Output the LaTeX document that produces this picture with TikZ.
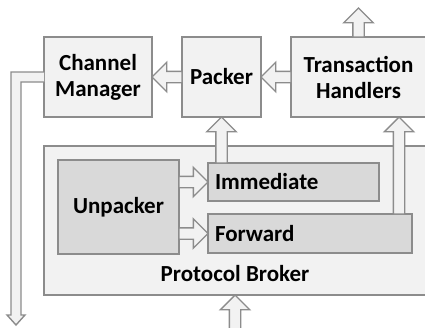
\documentclass[tikz,border=0pt]{standalone}
\usepackage{fontspec}
\setmainfont{Carlito}
\usetikzlibrary{positioning}
\usetikzlibrary{shapes.arrows}
\usetikzlibrary{calc}
\definecolor{edgegray}{gray}{0.55}
\definecolor{boxgray}{gray}{0.95}
\definecolor{ingray}{gray}{0.85}
\tikzstyle{block} = [rectangle, draw=edgegray, fill=boxgray, line width=1.6pt, outer sep=0pt, inner sep=0pt, align=center, font=\fontsize{23}{26}\selectfont\bfseries]
\tikzstyle{inblock} = [block, fill=ingray]
\tikzstyle{fatarrow} = [single arrow, draw=edgegray, fill=boxgray, line width=1.4pt, inner xsep=0pt, inner ysep=5pt, outer sep=0pt, minimum width=28pt, single arrow head extend=9pt, single arrow tip angle=90]
\tikzstyle{fatline} = [draw=edgegray, fill=boxgray, line width=1.4pt]
% fat arrow node from #2 to #3, named #1
\newcommand{\fatedge}[3]{%
  \path let \p1=(#2), \p2=(#3), \n1={atan2(\y2-\y1,\x2-\x1)}, \n2={veclen(\x2-\x1,\y2-\y1)} in
    node[fatarrow, anchor=tail, rotate=\n1, minimum height=\n2] (#1) at (\p1) {};%
}

\begin{document}
\begin{tikzpicture}[x=1pt, y=-1pt]
\useasboundingbox (0,0) rectangle (425,327);

% Define nodes
\node[block, minimum width=108pt, minimum height=80pt] (cm) at (98,77) {Channel\\Manager};
\node[block, minimum width=79pt, minimum height=80pt, right=30pt of cm] (pk) {Packer};
\node[block, minimum width=135pt, minimum height=80pt, right=30pt of pk] (th) {Transaction\\Handlers};
\coordinate[above=29pt of th.north] (thout);

\node[block, minimum width=382pt, minimum height=149pt] (pb) at (235,220.5) {};
\node[font=\fontsize{23}{26}\selectfont\bfseries, anchor=base, inner sep=0pt] (pbname) at ([yshift=14pt]pb.south) {Protocol Broker};
\coordinate[below=34pt of pb.south] (pbin);

\node[inblock, minimum width=121pt, minimum height=94pt, anchor=north west] (up) at (58,160) {Unpacker};
\node[inblock, minimum height=38pt, text width=157pt, inner xsep=7pt, align=left, anchor=north west] (im) at (208,163) {Immediate};
\node[inblock, minimum height=39pt, text width=190pt, inner xsep=7pt, align=left, anchor=north west] (fw) at (208,214) {Forward};
\coordinate (fwth) at ([xshift=-13pt]fw.north east);

% Edges
\fatedge{a1}{th.west}{pk.east}
\fatedge{a2}{pk.west}{cm.east}
\fatedge{a3}{th.north}{thout}
\fatedge{a4}{im.north -| pk.south}{pk.south}
\fatedge{a5}{fwth}{fwth |- th.south}
\fatedge{a6}{up.east |- im.west}{im.west}
\fatedge{a7}{up.east |- fw.west}{fw.west}
\fatedge{a8}{pbin}{pb.south}

\draw[fatline] ([yshift=5pt]cm.west) -| (11,315) -- (7,315) -- (16,325) -- (25,315) -- (21,315) |- ([yshift=-5pt]cm.west);
\end{tikzpicture}
\end{document}
